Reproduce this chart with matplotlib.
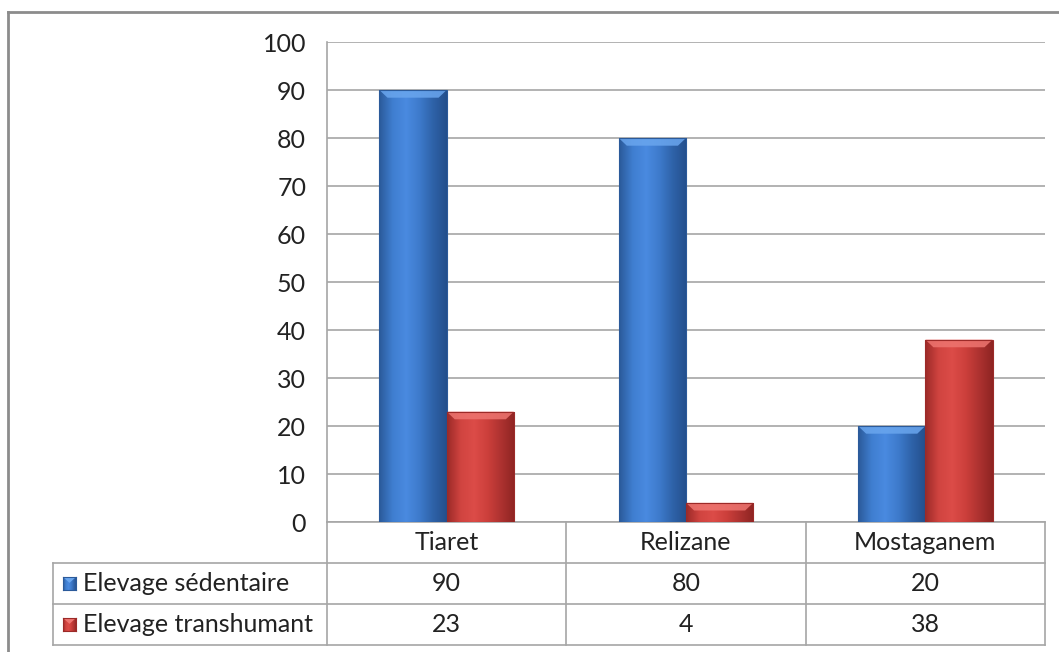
import numpy as np
import matplotlib
matplotlib.use("Agg")
import matplotlib.pyplot as plt
import matplotlib.transforms as mtransforms
from matplotlib.patches import Rectangle
from matplotlib.colors import LinearSegmentedColormap

categories = ["Tiaret", "Relizane", "Mostaganem"]
series_names = ["Elevage sédentaire", "Elevage transhumant"]
sedentaire = [90, 80, 20]
transhumant = [23, 4, 38]
yticks = [0, 10, 20, 30, 40, 50, 60, 70, 80, 90, 100]

plt.rcParams['font.family'] = ['Lato', 'DejaVu Sans']
FS = 18

W, H = 1059, 652
fig = plt.figure(figsize=(W / 100, H / 100), dpi=100)
fig.patch.set_facecolor("white")

def fx(px):
    return px / W

def fy(py):
    return 1 - py / H

ax_left, ax_right, ax_top, ax_bot = 327, 1045, 42, 522
ax = fig.add_axes([fx(ax_left), fy(ax_bot), fx(ax_right - ax_left), (ax_bot - ax_top) / H])
ax.set_xlim(-0.5, len(categories) - 0.5)
ax.set_ylim(0, 100)
ax.set_yticks(yticks)
ax.set_xticks([])
ax.tick_params(axis='y', length=0, pad=15, labelsize=FS, labelcolor="#222222")
for s in ["top", "right"]:
    ax.spines[s].set_visible(False)
for s in ["left", "bottom"]:
    ax.spines[s].set_color("#a6a6a6")
    ax.spines[s].set_linewidth(1.2)
ax.yaxis.grid(True, color="#a6a6a6", linewidth=1.2)
ax.set_axisbelow(True)

blue_cmap = LinearSegmentedColormap.from_list(
    "b", ["#2b5a9a", "#3f7ed0", "#4a8ae0", "#3d7acb", "#2e62a8", "#244f8c"])
red_cmap = LinearSegmentedColormap.from_list(
    "r", ["#9c2a28", "#d04440", "#dc4c48", "#cc3f3b", "#ad3230", "#8e2422"])
blue_light = "#6aa6ee"
red_light = "#ee7570"

bw = 0.281
x = np.arange(len(categories))
grad = np.linspace(0, 1, 200).reshape(1, -1)

def draw_series(vals, offset, cmap, light):
    bars = ax.bar(x + offset, vals, width=bw, color="none", edgecolor="none", zorder=3)
    for b in bars:
        x0, y0 = b.get_x(), b.get_y()
        w, h = b.get_width(), b.get_height()
        im = ax.imshow(grad, cmap=cmap, aspect="auto",
                       extent=[x0, x0 + w, y0, y0 + h], zorder=3,
                       interpolation="bicubic")
        im.set_clip_path(b)
        bev = min(1.6, h * 0.4)
        ax.add_patch(plt.Polygon([[x0, y0 + h], [x0 + w, y0 + h],
                                  [x0 + w * 0.88, y0 + h - bev], [x0 + w * 0.12, y0 + h - bev]],
                                 closed=True, facecolor=light, edgecolor="none", alpha=0.85, zorder=4))
        ax.add_patch(Rectangle((x0, y0), w, h, facecolor="none",
                               edgecolor=cmap(0.0), linewidth=0.8, zorder=5))
    return bars

draw_series(sedentaire, -bw / 2, blue_cmap, blue_light)
draw_series(transhumant, bw / 2, red_cmap, red_light)
ax.set_xlim(-0.5, len(categories) - 0.5)
ax.set_ylim(0, 100)

# Data table
line_c = "#a6a6a6"
tr = mtransforms.blended_transform_factory(ax.transData, fig.transFigure)
rows_y = [522, 563, 604, 645]
table_left = 53
for ry in rows_y[1:]:
    fig.add_artist(plt.Line2D([fx(table_left), fx(ax_right)], [fy(ry)] * 2, color=line_c, lw=1.2))
fig.add_artist(plt.Line2D([fx(table_left)] * 2, [fy(rows_y[1]), fy(rows_y[3])], color=line_c, lw=1.2))
for i in range(len(categories) + 1):
    xb = i - 0.5
    fig.add_artist(plt.Line2D([xb, xb], [fy(rows_y[0]), fy(rows_y[3])], color=line_c, lw=1.2, transform=tr))

def ymid(r):
    return fy((rows_y[r] + rows_y[r + 1]) / 2)

for i, c in enumerate(categories):
    fig.text(i, ymid(0), c, transform=tr, ha="center", va="center", fontsize=FS, color="#222222")
for r, vals in enumerate([sedentaire, transhumant]):
    for i, v in enumerate(vals):
        fig.text(i, ymid(r + 1), str(v), transform=tr, ha="center", va="center",
                 fontsize=FS, color="#222222")

# legend keys in table
for r, (name, cmap, light) in enumerate([(series_names[0], blue_cmap, blue_light),
                                          (series_names[1], red_cmap, red_light)]):
    yc = (rows_y[r + 1] + rows_y[r + 2]) / 2
    kx0, ks = 63, 13
    kax = fig.add_axes([fx(kx0), fy(yc + ks / 2), fx(ks), ks / H])
    kax.imshow(grad, cmap=cmap, aspect="auto", extent=[0, 1, 0, 1])
    kax.add_patch(plt.Polygon([[0, 1], [1, 1], [0.5, 0.55]], facecolor=light, edgecolor="none"))
    kax.set_xlim(0, 1); kax.set_ylim(0, 1)
    kax.set_xticks([]); kax.set_yticks([])
    for s in kax.spines.values():
        s.set_color(cmap(0.0)); s.set_linewidth(0.8)
    fig.text(fx(83), fy(yc), name, ha="left", va="center", fontsize=FS, color="#222222")

# outer chart border (left and top visible)
fig.add_artist(plt.Line2D([fx(8), fx(8)], [fy(12), 0], color="#8c8c8c", lw=2))
fig.add_artist(plt.Line2D([fx(8), 1], [fy(12), fy(12)], color="#8c8c8c", lw=2))

fig.savefig("out.png", dpi=100, facecolor="white")
